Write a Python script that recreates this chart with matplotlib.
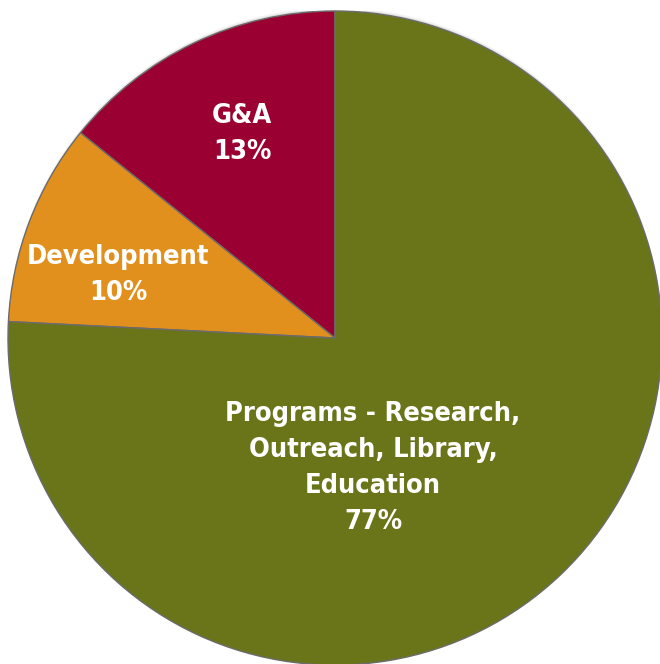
import matplotlib.pyplot as plt
from matplotlib.patches import Circle

# slices drawn from 12 o'clock, counter-clockwise
labels = ['G&A', 'Development', 'Programs - Research,\nOutreach, Library,\nEducation']
pct_text = ['13%', '10%', '77%']
shares = [14.2, 10.0, 75.8]  # as measured from the slice angles
colors = ['#9b0032', '#e1901e', '#6a751a']

fig = plt.figure(figsize=(6.6, 6.64), dpi=100)
ax = fig.add_axes([8/660, -1/664, 654/660, 654/664])

# soft shadow on the top rim
for r, dy, a in [(1.0, 0.010, 0.10), (1.0, 0.005, 0.18)]:
    ax.add_patch(Circle((0, dy), r, color='gray', alpha=a, lw=0, zorder=0))

ax.pie(shares, colors=colors, startangle=90, counterclock=True,
       wedgeprops=dict(edgecolor='#6b6b6b', linewidth=1.0))
ax.set_xlim(-1, 1)
ax.set_ylim(-1, 1)
ax.set_aspect('equal')
ax.axis('off')

def to_data(px, py):
    return (px - 335) / 327, (338 - py) / 327

font = dict(family='DejaVu Sans', stretch='condensed', weight='bold',
            color='white', fontsize=19.5, ha='center', va='center')

pos = [(242, 134), (118, 275), (373, 468)]
for lab, pc, (px, py) in zip(labels, pct_text, pos):
    x, y = to_data(px, py)
    ax.text(x, y, lab + '\n' + pc, linespacing=1.5, **font)

fig.savefig('out.png', dpi=100)
